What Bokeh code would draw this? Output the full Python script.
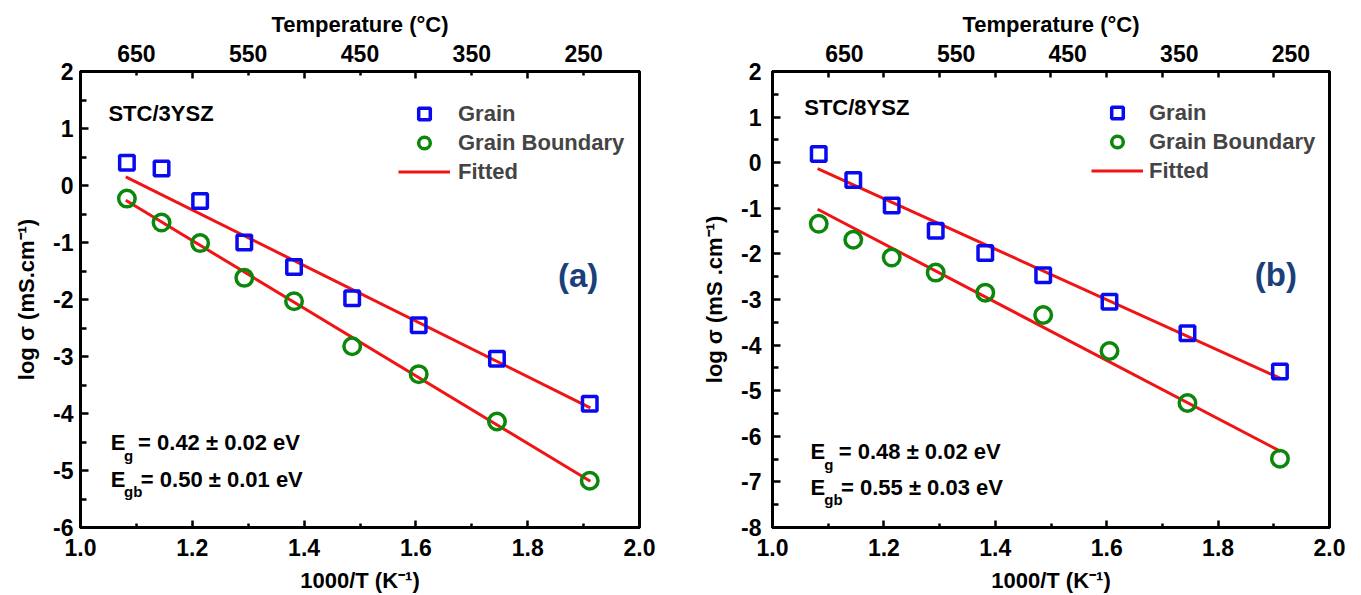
from bokeh.plotting import figure
from bokeh.models import (Range1d, LinearAxis, FixedTicker, PrintfTickFormatter,
                          Legend, LegendItem, Label)
from bokeh.layouts import row
from bokeh.embed import file_html
from bokeh.resources import INLINE

# ---------------- data ----------------
inv_T = [1.083, 1.145, 1.214, 1.293, 1.382, 1.486, 1.605, 1.745, 1.911]   # 1000/T (K^-1)

grain_a = [0.40, 0.30, -0.27, -1.00, -1.43, -1.98, -2.45, -3.04, -3.83]
gb_a = [-0.23, -0.65, -1.01, -1.62, -2.03, -2.82, -3.31, -4.14, -5.18]
grain_b = [0.19, -0.38, -0.94, -1.49, -1.98, -2.47, -3.05, -3.74, -4.58]
gb_b = [-1.34, -1.69, -2.08, -2.41, -2.85, -3.34, -4.13, -5.27, -6.49]

fit_x = [1.081, 1.912]
fit_grain_a = [0.15, -3.90]
fit_gb_a = [-0.26, -5.19]
fit_grain_b = [-0.13, -4.73]
fit_gb_b = [-1.02, -6.33]

x_ticks = [1.0, 1.2, 1.4, 1.6, 1.8, 2.0]
x_minor = [1.1, 1.3, 1.5, 1.7, 1.9]
y_ticks_a = [-6, -5, -4, -3, -2, -1, 0, 1, 2]
y_minor_a = [-5.5, -4.5, -3.5, -2.5, -1.5, -0.5, 0.5, 1.5]
y_ticks_b = [-8, -7, -6, -5, -4, -3, -2, -1, 0, 1, 2]
y_minor_b = [-7.5, -6.5, -5.5, -4.5, -3.5, -2.5, -1.5, -0.5, 0.5, 1.5]
temp_labels = [650, 550, 450, 350, 250]
temp_long_ticks = [700, 600, 500, 400, 300, 200]
# panel (b): tick marks sit between the labels (label-axis coordinates)
temp_ticks_b = [664.6, 614.7, 564.8, 514.9, 465.0, 415.1, 365.2, 315.3, 265.4]

FONT = "Liberation Sans"
BLUE = "#0a0af0"
GREEN = "#0b870b"
RED = "#f01414"
NAVY = "#1b3f7b"


def style_axis(ax, major_in=8, minor_in=5):
    ax.axis_line_width = 3
    ax.axis_line_color = "black"
    ax.major_tick_in = major_in
    ax.major_tick_out = 0
    ax.minor_tick_in = minor_in
    ax.minor_tick_out = 0
    ax.major_tick_line_width = 2.5
    ax.minor_tick_line_width = 2.5
    ax.major_label_text_font = FONT
    ax.major_label_text_font_style = "bold"
    ax.major_label_text_font_size = "23px"
    ax.major_label_text_color = "black"
    ax.axis_label_text_font = FONT
    ax.axis_label_text_font_style = "bold"
    ax.axis_label_text_font_size = "22px"
    ax.axis_label_text_color = "black"


def make_panel(width, left, right, ymin, yt, ym, grain, gb, fg, fgb,
               ylabel, label_range, top_ticker, top_major_in, top_minor_in,
               legend_loc, label_standoff_legend, y_label_standoff, texts):
    p = figure(width=width, height=595, x_range=Range1d(1.0, 2.0),
               y_range=Range1d(ymin, 2.0), output_backend="svg",
               toolbar_location=None, min_border_left=left,
               min_border_right=right, min_border_top=71, min_border_bottom=68)
    p.grid.visible = False
    p.outline_line_color = "black"
    p.outline_line_width = 3
    p.outline_line_alpha = 1.0
    p.background_fill_color = "white"
    p.border_fill_color = "white"

    xa = p.xaxis[0]
    style_axis(xa, 7, 4)
    xa.ticker = FixedTicker(ticks=x_ticks, minor_ticks=x_minor)
    xa.formatter = PrintfTickFormatter(format="%.1f")
    xa.axis_label = "1000/T (K\u207b\u00b9)"
    xa.major_label_standoff = 11
    xa.axis_label_standoff = 9

    ya = p.yaxis[0]
    style_axis(ya, 8, 6)
    ya.ticker = FixedTicker(ticks=yt, minor_ticks=ym)
    ya.formatter = PrintfTickFormatter(format="%d")
    ya.axis_label = ylabel
    ya.major_label_standoff = y_label_standoff
    ya.axis_label_standoff = 11

    p.extra_x_ranges = {"temp": Range1d(*label_range)}
    top = LinearAxis(x_range_name="temp")
    style_axis(top, top_major_in, top_minor_in)
    top.ticker = top_ticker
    top.formatter = PrintfTickFormatter(format="%d")
    if top_major_in == 0:
        top.major_tick_line_color = None
    top.major_label_standoff = 10
    top.axis_label = "Temperature (\u00b0C)"
    top.axis_label_standoff = 5
    p.add_layout(top, "above")

    lg = p.line(fit_x, fg, line_color=RED, line_width=3)
    lgb = p.line(fit_x, fgb, line_color=RED, line_width=3)
    sq = p.scatter(inv_T, grain, marker="square", size=14.5, fill_color=None,
                   line_color=BLUE, line_width=3.5)
    ci = p.scatter(inv_T, gb, marker="circle", size=16.5, fill_color=None,
                   line_color=GREEN, line_width=3.5)

    legend = Legend(items=[LegendItem(label="Grain", renderers=[sq]),
                           LegendItem(label="Grain Boundary", renderers=[ci]),
                           LegendItem(label="Fitted", renderers=[lg])],
                    location=legend_loc)
    legend.padding = 0
    legend.margin = 0
    legend.spacing = 0
    legend.glyph_width = 52
    legend.glyph_height = 29
    legend.label_height = 29
    legend.label_standoff = label_standoff_legend
    legend.label_text_font = FONT
    legend.label_text_font_style = "bold"
    legend.label_text_font_size = "22px"
    legend.border_line_color = None
    legend.background_fill_alpha = 0
    p.add_layout(legend)

    for (x, y, t, size, color) in texts:
        p.add_layout(Label(x=x, y=y, text=t, text_font=FONT,
                           text_font_style="bold", text_font_size=size,
                           text_color=color, text_baseline="middle",
                           text_align="left"))
    return p


texts_a = [
    (1.050, 1.27, "STC/3YSZ", "22px", "black"),
    (1.054, -4.50, "E", "22px", "black"),
    (1.078, -4.74, "g", "15px", "black"),
    (1.103, -4.50, "= 0.42 \u00b1 0.02 eV", "22px", "black"),
    (1.054, -5.15, "E", "22px", "black"),
    (1.078, -5.36, "gb", "15px", "black"),
    (1.108, -5.15, "= 0.50 \u00b1 0.01 eV", "22px", "black"),
    (1.854, -1.58, "(a)", "33px", NAVY),
]
texts_b = [
    (1.057, 1.22, "STC/8YSZ", "22px", "black"),
    (1.068, -6.33, "E", "22px", "black"),
    (1.093, -6.61, "g", "15px", "black"),
    (1.119, -6.33, "= 0.48 \u00b1 0.02 eV", "22px", "black"),
    (1.068, -7.12, "E", "22px", "black"),
    (1.093, -7.38, "gb", "15px", "black"),
    (1.123, -7.12, "= 0.55 \u00b1 0.03 eV", "22px", "black"),
    (1.866, -2.45, "(b)", "33px", NAVY),
]

ticker_a = FixedTicker(ticks=temp_labels, minor_ticks=temp_long_ticks)
ticker_b = FixedTicker(ticks=temp_labels, minor_ticks=temp_ticks_b)

pa = make_panel(690, 80, 51, -6.0, y_ticks_a, y_minor_a, grain_a, gb_a,
                fit_grain_a, fit_gb_a, "log \u03c3 (mS.cm\u207b\u00b9)",
                (700, 200), ticker_a, 4, 7, (318, 341), 8, 7, texts_a)
pb = make_panel(663, 82, 24, -8.0, y_ticks_b, y_minor_b, grain_b, gb_b,
                fit_grain_b, fit_gb_b, "log \u03c3 (mS .cm\u207b\u00b9)",
                (714.5, 215.4), ticker_b, 0, 6, (319, 342), 6, 11, texts_b)

layout = row(pa, pb)
open("out.html", "w").write(file_html(layout, INLINE))
